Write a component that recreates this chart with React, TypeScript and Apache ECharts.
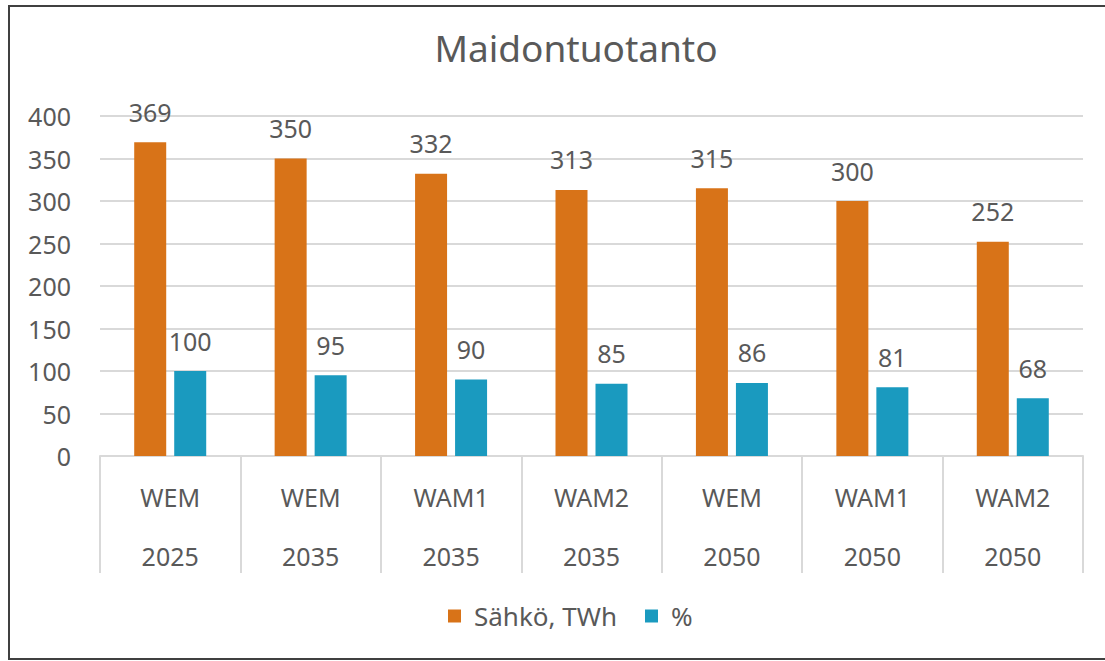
import React, { useEffect, useRef } from "react";
import * as echarts from "echarts";

const scenarios = ["WEM", "WEM", "WAM1", "WAM2", "WEM", "WAM1", "WAM2"];
const years = ["2025", "2035", "2035", "2035", "2050", "2050", "2050"];
const electricity = [369, 350, 332, 313, 315, 300, 252];
const percent = [100, 95, 90, 85, 86, 81, 68];
const yTicks = [0, 50, 100, 150, 200, 250, 300, 350, 400];

const FONT = "'Segoe UI', 'Noto Sans', sans-serif";
const TXT = "#595959";

export default function App() {
  const ref = useRef<HTMLDivElement>(null);
  useEffect(() => {
    const chart = echarts.init(ref.current!, null, { renderer: "svg" });
    const cats = scenarios.map((s, i) => `${s}\n${years[i]}`);
    chart.setOption({
      animation: false,
      backgroundColor: "#fff",
      title: {
        text: "Maidontuotanto",
        left: 571,
        textAlign: "center",
        top: 24,
        textStyle: { fontFamily: FONT, fontSize: 37, fontWeight: "normal", color: TXT },
      },
      legend: {
        bottom: 27,
        left: 443,
        itemWidth: 13,
        itemHeight: 13,
        itemGap: 28,
        icon: "rect",
        textStyle: { fontFamily: FONT, fontSize: 26, color: TXT, padding: [0, 0, 0, 8] },
      },
      grid: { left: 100, right: 22, top: 116, bottom: 205, containLabel: false },
      xAxis: {
        type: "category",
        data: cats,
        axisLine: { show: true, lineStyle: { color: "#d9d9d9", width: 2 } },
        axisTick: { show: true, length: 117, lineStyle: { color: "#d9d9d9", width: 2 } },
        axisLabel: {
          fontFamily: FONT,
          fontSize: 25,
          color: TXT,
          lineHeight: 59,
          margin: 11,
          interval: 0,
        },
      },
      yAxis: {
        type: "value",
        min: yTicks[0],
        max: yTicks[yTicks.length - 1],
        interval: 50,
        axisLine: { show: false },
        axisTick: { show: false },
        splitLine: { lineStyle: { color: "#d9d9d9", width: 2 } },
        axisLabel: { fontFamily: FONT, fontSize: 25, color: TXT, margin: 29 },
      },
      series: [
        {
          name: "Sähkö, TWh",
          type: "bar",
          data: electricity,
          barWidth: 32,
          barGap: "25%",
          itemStyle: { color: "#D87318" },
          label: { show: true, position: "top", distance: 18, fontFamily: FONT, fontSize: 25, color: TXT },
        },
        {
          name: "%",
          type: "bar",
          data: percent,
          barWidth: 32,
          barGap: "25%",
          itemStyle: { color: "#1A9ABF" },
          label: { show: true, position: "top", distance: 18, fontFamily: FONT, fontSize: 25, color: TXT },
        },
      ],
      graphic: [
        {
          type: "rect",
          shape: { x: 9, y: 6, width: 1110, height: 653 },
          style: { fill: "none", stroke: "#404040", lineWidth: 2 },
          silent: true,
        },
      ],
    });
    return () => chart.dispose();
  }, []);
  return (
    <div
      ref={ref}
      style={{ position: "absolute", left: 0, top: 0, width: 1105, height: 661 }}
    />
  );
}
